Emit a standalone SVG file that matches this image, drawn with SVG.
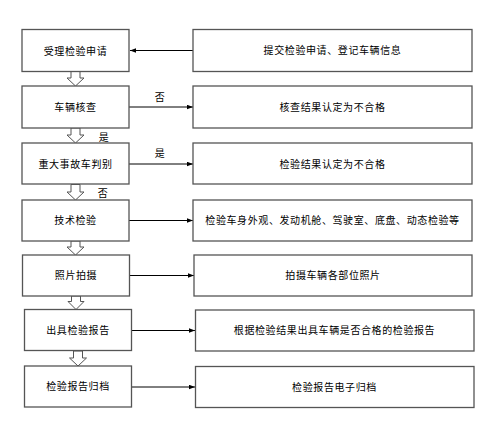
<svg xmlns="http://www.w3.org/2000/svg" width="483" height="430" viewBox="0 0 483 430">
<style>
.box{fill:#fff;stroke:#555;stroke-width:1.3}
.t{font-family:"Liberation Sans","Noto Sans CJK SC",sans-serif;font-size:10px;letter-spacing:0.6px;fill:#000;text-anchor:middle;dominant-baseline:central}
.c{stroke:#000;stroke-width:1;fill:none;marker-end:url(#ah)}
.h{fill:#fff;stroke:#555;stroke-width:1}
</style>
<defs>
<marker id="ah" viewBox="0 0 8 6" refX="8" refY="3" markerWidth="6" markerHeight="5" orient="auto" markerUnits="userSpaceOnUse">
<path d="M0,0 L8,3 L0,6 Z" fill="#000"/>
</marker>
</defs>
<rect width="483" height="430" fill="#fff"/>
<g id="connectors">
<line class="c" x1="193" y1="50.5" x2="130" y2="50.5"/>
<line class="c" x1="129" y1="107" x2="193" y2="107"/>
<line class="c" x1="129" y1="164" x2="193" y2="164"/>
<line class="c" x1="129" y1="220.5" x2="193" y2="220.5"/>
<line class="c" x1="129" y1="275.5" x2="194" y2="275.5"/>
<line class="c" x1="132" y1="330.5" x2="195" y2="330.5"/>
<line class="c" x1="132" y1="387" x2="195" y2="387"/>
<path class="h" d="M71,71.5 H80 V78 H84 L75.5,86 L67,78 H71 Z"/>
<path class="h" d="M71,128 H80 V135 H84 L75.5,143 L67,135 H71 Z"/>
<path class="h" d="M71,184.5 H80 V192 H84 L75.5,200 L67,192 H71 Z"/>
<path class="h" d="M71,241 H80 V247 H84 L75.5,255 L67,247 H71 Z"/>
<path class="h" d="M71.5,296 H80.5 V301.5 H84 L76,309.5 L68,301.5 H71.5 Z"/>
<path class="h" d="M73.5,351 H82.5 V358 H86.5 L78,366 L69.5,358 H73.5 Z"/>
<text class="t" x="160" y="97">否</text>
<text class="t" x="104" y="137">是</text>
<text class="t" x="160" y="153">是</text>
<text class="t" x="103" y="193">否</text>
</g>
<g id="n1"><rect class="box" x="22" y="29.5" width="107" height="42"/><text class="t" x="75.5" y="51">受理检验申请</text></g>
<g id="n2"><rect class="box" x="22" y="86" width="107" height="42"/><text class="t" x="75.5" y="107">车辆核查</text></g>
<g id="n3"><rect class="box" x="22" y="143" width="107" height="41"/><text class="t" x="75.5" y="164">重大事故车判别</text></g>
<g id="n4"><rect class="box" x="22" y="200" width="107" height="41"/><text class="t" x="75.5" y="220.5">技术检验</text></g>
<g id="n5"><rect class="box" x="22.5" y="255" width="107" height="41"/><text class="t" x="76" y="275.5">照片拍摄</text></g>
<g id="n6"><rect class="box" x="24.5" y="309.5" width="107" height="41"/><text class="t" x="78" y="330.5">出具检验报告</text></g>
<g id="n7"><rect class="box" x="24.5" y="366" width="107" height="41"/><text class="t" x="78" y="386.5">检验报告归档</text></g>
<g id="r1"><rect class="box" x="193" y="29.5" width="279" height="42"/><text class="t" x="332.5" y="50.5">提交检验申请、登记车辆信息</text></g>
<g id="r2"><rect class="box" x="193" y="86" width="279" height="42"/><text class="t" x="332.5" y="107">核查结果认定为不合格</text></g>
<g id="r3"><rect class="box" x="193" y="143" width="279" height="41"/><text class="t" x="332.5" y="164">检验结果认定为不合格</text></g>
<g id="r4"><rect class="box" x="193" y="200" width="279" height="41"/><text class="t" x="332.5" y="220.5">检验车身外观、发动机舱、驾驶室、底盘、动态检验等</text></g>
<g id="r5"><rect class="box" x="194" y="255" width="278" height="41"/><text class="t" x="333" y="275.5">拍摄车辆各部位照片</text></g>
<g id="r6"><rect class="box" x="195.5" y="310" width="278.5" height="41"/><text class="t" x="334.5" y="330.5">根据检验结果出具车辆是否合格的检验报告</text></g>
<g id="r7"><rect class="box" x="195.5" y="366.5" width="278.5" height="41"/><text class="t" x="334.5" y="387">检验报告电子归档</text></g>
</svg>
